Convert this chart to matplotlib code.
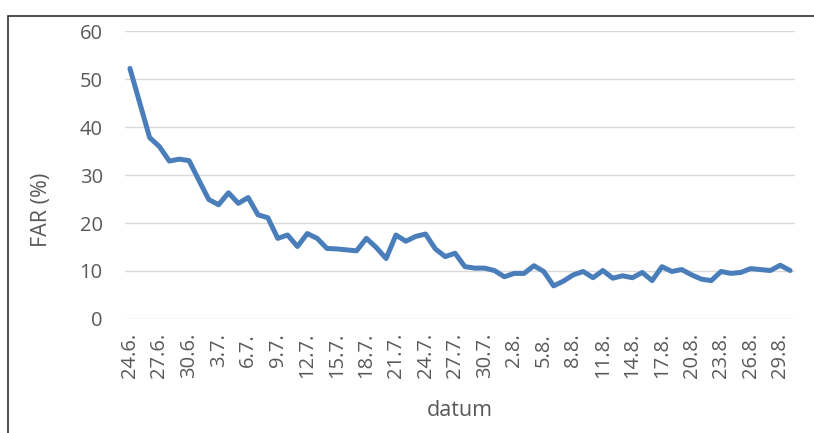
import matplotlib

matplotlib.use("Agg")
import matplotlib.pyplot as plt
from matplotlib.patches import Rectangle

# daily FAR values, 24.6. .. 30.8.
dates = (
    [f"{d}.6." for d in range(24, 31)]
    + [f"{d}.7." for d in range(1, 32)]
    + [f"{d}.8." for d in range(1, 31)]
)
far = [
    52.2, 45.0, 37.8, 35.9, 32.9, 33.3, 33.0, 28.9, 24.9, 23.8,
    26.3, 24.1, 25.3, 21.7, 21.1, 16.8, 17.5, 15.1, 17.8, 16.8,
    14.7, 14.6, 14.4, 14.2, 16.8, 14.9, 12.6, 17.5, 16.2, 17.2,
    17.7, 14.6, 13.0, 13.7, 10.9, 10.6, 10.6, 10.1, 8.8, 9.5,
    9.5, 11.1, 9.9, 6.9, 7.9, 9.2, 9.9, 8.6, 10.1, 8.5,
    9.0, 8.6, 9.7, 8.0, 10.9, 9.9, 10.3, 9.2, 8.3, 8.0,
    9.9, 9.5, 9.7, 10.5, 10.3, 10.1, 11.2, 10.1,
]
tick_step = 3

plt.rcParams["font.family"] = ["Open Sans", "DejaVu Sans"]

fig = plt.figure(figsize=(8.14, 4.33), dpi=100)
fig.patch.set_facecolor("white")
ax = fig.add_axes([125 / 814, 1 - 319 / 433, 670 / 814, 288 / 433])

x = list(range(len(far)))
ax.plot(x, far, color="#4a7ebb", linewidth=3.6, solid_joinstyle="round",
        solid_capstyle="round", zorder=3)

ax.set_xlim(-0.5, len(far) - 0.5)
ax.set_ylim(0, 60)
ax.set_yticks(range(0, 61, 10))
ax.set_xticks(x[::tick_step])
ax.set_xticklabels(dates[::tick_step], rotation=90, va="top", ha="center")
ax.tick_params(axis="both", length=0, labelsize=14.5, labelcolor="#595959")
ax.tick_params(axis="y", pad=16)
ax.tick_params(axis="x", pad=10)
ax.grid(axis="y", color="#d9d9d9", linewidth=1.0, zorder=0)
for s in ax.spines.values():
    s.set_visible(False)

ax.set_ylabel("FAR (%)", fontsize=15.5, color="#595959", va="center")
ax.yaxis.set_label_coords(-84 / 670, 109 / 288)
ax.set_xlabel("datum", fontsize=15.5, color="#595959", va="center")
ax.xaxis.set_label_coords(0.5, -91 / 288)

# outer frame (only left and top edges visible)
fig.add_artist(Rectangle((8 / 814, -0.2), 1.2, 1.2 - 16 / 433,
                         transform=fig.transFigure, fill=False,
                         edgecolor="#303030", linewidth=1.2))

fig.savefig("out.png", dpi=100)
